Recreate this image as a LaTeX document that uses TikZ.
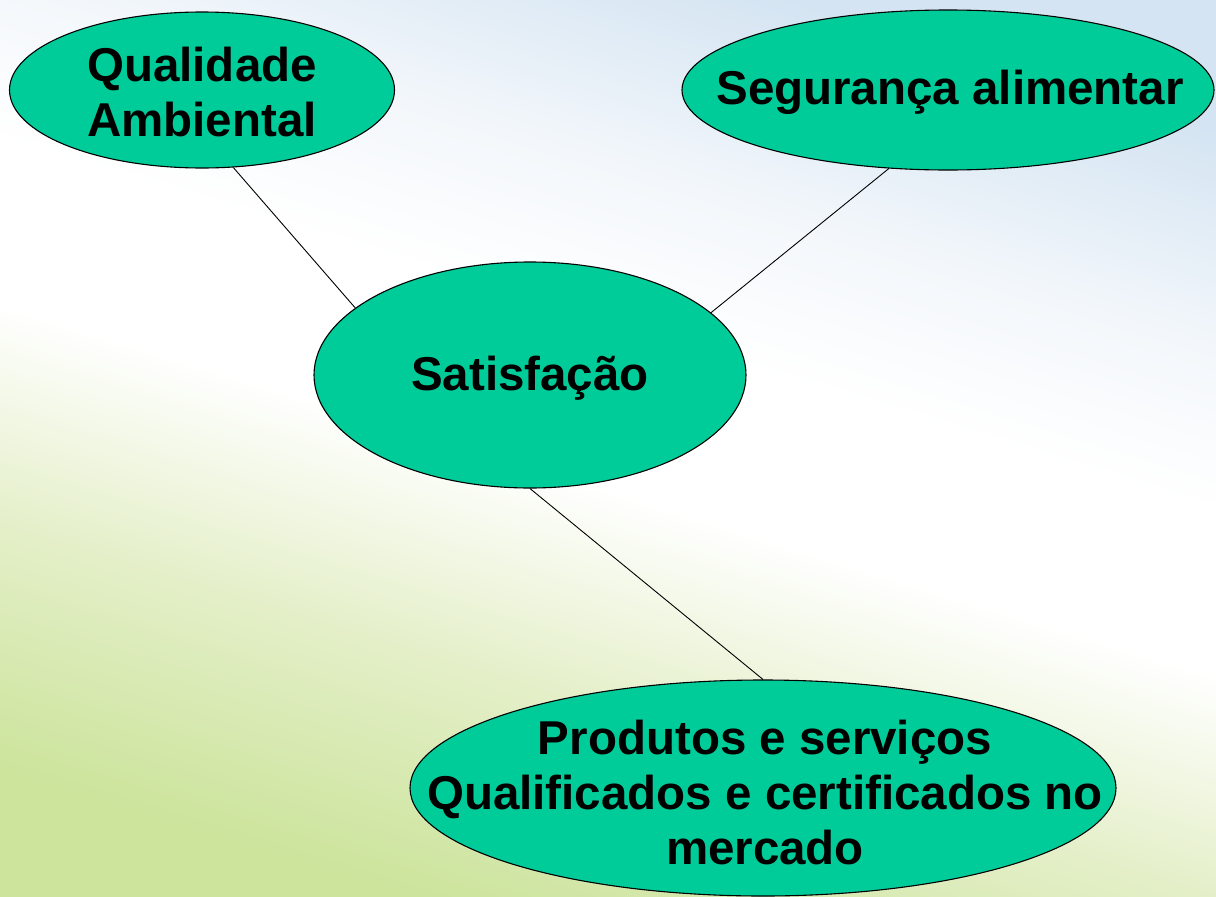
\documentclass[tikz,border=0pt]{standalone}
\usepackage{fontspec}
\setmainfont{Liberation Sans}
\usetikzlibrary{shapes.geometric}
\definecolor{bgA}{RGB}{204,228,156}
\definecolor{bgB}{RGB}{228,239,200}
\definecolor{bgC}{RGB}{255,255,255}
\definecolor{bgD}{RGB}{243,247,251}
\definecolor{bgE}{RGB}{212,228,242}
\definecolor{ellfill}{HTML}{00CC99}
\pgfdeclareverticalshading{bgshade}{100bp}{color(0bp)=(bgA); color(25bp)=(bgA); color(37bp)=(bgB); color(48bp)=(bgC); color(56bp)=(bgC); color(64bp)=(bgD); color(75bp)=(bgE); color(100bp)=(bgE)}
\tikzset{
  ell/.style={ellipse, draw=black, line width=1.1pt, fill=ellfill, inner sep=0pt},
  lbl/.style={font=\bfseries\fontsize{47.5}{55}\selectfont, align=center, text=black, inner sep=0pt},
  link/.style={draw=black, line width=0.9pt}
}
\begin{document}
\begin{tikzpicture}[x=1pt,y=-1pt]
\shade[shading=bgshade, shading angle=-17] (0,0) rectangle (1216,897);
\useasboundingbox (0,0) rectangle (1216,897);
\node[ell, minimum width=385pt, minimum height=156pt] (qa) at (202,90) {};
\node[ell, minimum width=532pt, minimum height=160pt] (sa) at (948,90) {};
\node[ell, minimum width=432pt, minimum height=226pt] (sat) at (530,375) {};
\node[ell, minimum width=706pt, minimum height=216pt] (ps) at (763,788) {};
\node[lbl] (qat) at (202,92) {Qualidade\\Ambiental};
\node[lbl] (sat-t) at (950,92) {Segurança alimentar};
\node[lbl] (satt) at (530,378) {Satisfação};
\node[lbl] (pst) at (765,793) {Produtos e serviços\\Qualificados e certificados no\\mercado};
\draw[link] (qa.-68) -- (sat.159);
\draw[link] (sa.-127) -- (sat.19);
\draw[link] (sat.south) -- (ps.north);
\end{tikzpicture}
\end{document}
